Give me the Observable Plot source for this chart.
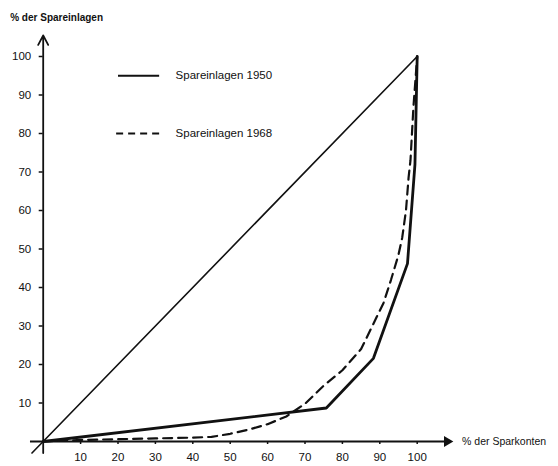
<!DOCTYPE html>
<html>
<head>
<meta charset="utf-8">
<script src="https://cdn.jsdelivr.net/npm/d3@7"></script>
<script src="https://cdn.jsdelivr.net/npm/@observablehq/plot@0.6"></script>
<style>
  html, body { margin: 0; padding: 0; background: #fff; }
  #chart { width: 558px; height: 466px; }
</style>
</head>
<body>
<div id="chart"></div>
<script>
// Tick labels
const xTicks = [10, 20, 30, 40, 50, 60, 70, 80, 90, 100];
const yTicks = [10, 20, 30, 40, 50, 60, 70, 80, 90, 100];

// Lorenz curve 1950 (solid)
const konten1950 = [0, 75.7, 88.3, 97.4, 99.4, 100];
const einlagen1950 = [0, 8.7, 21.6, 46.2, 72, 100];

// Lorenz curve 1968 (dashed)
const konten1968 = [0, 10, 20, 30, 40, 45, 50, 55, 60, 65, 70, 75, 80, 85, 88, 91, 93, 95, 96, 97, 97.7, 98.2, 99, 100];
const einlagen1968 = [0, 0.4, 0.6, 0.8, 1.0, 1.2, 2.0, 3.1, 4.5, 6.5, 9.8, 14.5, 18.5, 24, 30, 36, 42, 48.5, 53, 60, 68.6, 73, 87, 100];

// Line of equality
const gleichX = [-3, 100];
const gleichY = [-3, 100];

// Legend
const legendLabels = ["Spareinlagen 1950", "Spareinlagen 1968"];
const legendRows = [95, 80];

const toRows = (xs, ys) => xs.map((x, i) => ({x, y: ys[i]}));
const ink = "#111";

const plot = Plot.plot({
  width: 558,
  height: 466,
  marginLeft: 42.7,
  marginRight: 141.3,
  marginTop: 56,
  marginBottom: 25,
  x: {domain: [0, 100]},
  y: {domain: [0, 100]},
  style: {fontFamily: "Liberation Sans, Arial, sans-serif", fontSize: "11px", color: ink, background: "#fff"},
  marks: [
    Plot.axisX({ticks: xTicks, tickSize: 3, tickPadding: 8, label: null, strokeWidth: 1.5, fontSize: 11.5}),
    Plot.axisY({ticks: yTicks, tickSize: 4, tickPadding: 8, label: null, strokeWidth: 1.5, fontSize: 11.5}),
    // axes with arrows
    Plot.ruleY([0], {x1: () => -3.4, x2: () => 107.5, stroke: ink, strokeWidth: 1.8}),
    Plot.dot([0], {x: () => 108, y: () => 0, symbol: "triangle", rotate: 90, r: 4, fill: ink, stroke: "none"}),
    Plot.arrow([0], {x1: () => 0, y1: () => -3, x2: () => 0, y2: () => 105.5, stroke: ink, strokeWidth: 1.8, headLength: 9, headAngle: 55}),
    // line of equality
    Plot.line(toRows(gleichX, gleichY), {x: "x", y: "y", stroke: ink, strokeWidth: 1.6}),
    // curves
    Plot.line(toRows(konten1950, einlagen1950), {x: "x", y: "y", stroke: ink, strokeWidth: 2.8, strokeLinejoin: "miter"}),
    Plot.line(toRows(konten1968, einlagen1968), {x: "x", y: "y", stroke: ink, strokeWidth: 2.2, strokeDasharray: "9,6"}),
    // legend
    Plot.link([legendRows[0]], {x1: () => 20, x2: () => 31, y1: d => d, y2: d => d, stroke: ink, strokeWidth: 1.8}),
    Plot.link([legendRows[1]], {x1: () => 19.5, x2: () => 31, y1: d => d, y2: d => d, stroke: ink, strokeWidth: 2, strokeDasharray: "7,5"}),
    Plot.text(legendLabels, {x: () => 35.4, y: (d, i) => legendRows[i], text: d => d, textAnchor: "start", fontSize: 11.5, fill: ink}),
    // axis titles
    Plot.text(["% der Sparkonten"], {x: () => 112, y: () => 0, text: d => d, textAnchor: "start", fontSize: 10.5, fill: ink}),
    Plot.text(["% der Spareinlagen"], {frameAnchor: "top-left", dx: -33, dy: -43, text: d => d, textAnchor: "start", fontSize: 10, fontWeight: "bold", fill: ink})
  ]
});
document.getElementById("chart").appendChild(plot);
</script>
</body>
</html>
